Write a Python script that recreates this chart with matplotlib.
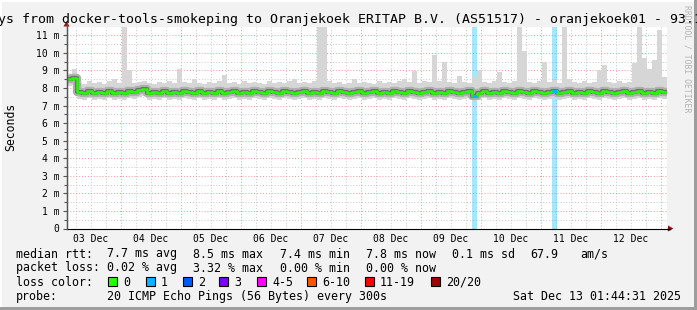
import numpy as np
import matplotlib
matplotlib.use('Agg')
import matplotlib.pyplot as plt
from matplotlib.patches import Rectangle, Polygon
from matplotlib.lines import Line2D

W, H = 697, 310
MONO = 'DejaVu Sans Mono'

# x axis in days since 03 Dec 00:00, one value every 2 hours
start_day = 0.1
step_days = 2 / 24

median_ms = [8.50, 8.55,
             7.75, 7.70, 7.80, 7.70, 7.75, 7.70, 7.80, 7.70, 7.75, 7.70, 7.80, 7.75,
             7.90, 7.95,
             7.70, 7.75, 7.70, 7.80, 7.70, 7.75, 7.70, 7.80, 7.75, 7.70, 7.80, 7.70, 7.75, 7.70,
             7.80, 7.70, 7.75, 7.80, 7.70, 7.75, 7.70, 7.80, 7.75, 7.70, 7.80, 7.75, 7.70, 7.80, 7.75, 7.70, 7.75, 7.80, 7.70, 7.75,
             7.70, 7.80, 7.75, 7.70, 7.80, 7.75, 7.70, 7.75, 7.80, 7.70, 7.75, 7.80, 7.70, 7.75, 7.70, 7.80, 7.75, 7.70, 7.80, 7.75,
             7.70, 7.75, 7.80, 7.70, 7.75, 7.70, 7.80, 7.75, 7.70, 7.75, 7.80, 7.55, 7.70, 7.80, 7.70, 7.75, 7.70, 7.80, 7.75, 7.70,
             7.80, 7.75, 7.70, 7.80, 7.75, 7.70, 7.75, 7.80, 7.70, 7.75, 7.80, 7.70, 7.75, 7.70, 7.80, 7.75, 7.70, 7.80, 7.75, 7.70,
             7.75, 7.80, 7.70, 7.75, 7.80, 7.70, 7.75, 7.70, 7.80, 7.75]

smoke_min = [8.10, 8.15,
             7.35, 7.30, 7.40, 7.30, 7.35, 7.30, 7.40, 7.30, 7.35, 7.30, 7.40, 7.35,
             7.50, 7.55,
             7.30, 7.35, 7.30, 7.40, 7.30, 7.35, 7.30, 7.40, 7.35, 7.30, 7.40, 7.30, 7.35, 7.30,
             7.40, 7.30, 7.35, 7.40, 7.30, 7.35, 7.30, 7.40, 7.35, 7.30, 7.40, 7.35, 7.30, 7.40, 7.35, 7.30, 7.35, 7.40, 7.30, 7.35,
             7.30, 7.40, 7.35, 7.30, 7.40, 7.35, 7.30, 7.35, 7.40, 7.30, 7.35, 7.40, 7.30, 7.35, 7.30, 7.40, 7.35, 7.30, 7.40, 7.35,
             7.30, 7.35, 7.40, 7.30, 7.35, 7.30, 7.40, 7.35, 7.30, 7.35, 7.40, 7.20, 7.30, 7.40, 7.30, 7.35, 7.30, 7.40, 7.35, 7.30,
             7.40, 7.35, 7.30, 7.40, 7.35, 7.30, 7.35, 7.40, 7.30, 7.35, 7.40, 7.30, 7.35, 7.30, 7.40, 7.35, 7.30, 7.40, 7.35, 7.30,
             7.35, 7.40, 7.30, 7.35, 7.40, 7.30, 7.35, 7.30, 7.40, 7.35]

smoke_max = [8.80, 9.10,
             8.30, 8.25, 8.40, 8.30, 8.35, 8.25, 8.40, 8.50, 8.30, 11.45, 9.00, 8.30,
             8.35, 8.40,
             8.30, 8.25, 8.35, 8.30, 8.40, 8.30, 9.10, 8.35, 8.30, 8.50, 8.30, 8.25, 8.35, 8.30,
             8.40, 8.75, 8.30, 8.35, 8.25, 8.40, 8.30, 8.35, 8.30, 8.25, 8.40, 8.30, 8.35, 8.30, 8.40, 8.50, 8.30, 8.35, 8.30, 8.40,
             11.45, 11.45, 8.40, 8.30, 8.35, 8.25, 8.30, 8.50, 8.30, 8.35, 8.30, 8.25, 8.40, 8.30, 8.35, 8.30, 8.40, 8.50, 8.35, 8.95,
             8.30, 8.40, 8.35, 9.85, 8.40, 9.45, 8.35, 8.30, 8.70, 8.35, 8.30, 8.60, 9.00, 8.35, 8.30, 8.40, 8.90, 8.35, 8.30, 8.40,
             11.45, 10.10, 8.35, 8.30, 8.40, 9.50, 8.35, 8.45, 8.30, 11.45, 8.50, 8.35, 8.30, 8.40, 8.30, 8.35, 9.00, 9.30, 8.35, 8.30,
             8.40, 8.30, 8.35, 9.40, 11.45, 9.70, 9.05, 9.60, 11.30, 8.60]

# 2-hour slots that lost pings, and how many of 20
loss_slots = [81, 97]
loss_pings = [1, 1]

day_labels = ['03 Dec', '04 Dec', '05 Dec', '06 Dec', '07 Dec',
              '08 Dec', '09 Dec', '10 Dec', '11 Dec', '12 Dec']
y_labels = ['0', '1 m', '2 m', '3 m', '4 m', '5 m', '6 m',
            '7 m', '8 m', '9 m', '10 m', '11 m']

loss_names = ['0', '1', '2', '3', '4-5', '6-10', '11-19', '20/20']
loss_colors = ['#26ff00', '#00b8ff', '#0059ff', '#7e00ff',
               '#ff00ff', '#ff5500', '#ff0000', '#a10000']


def px(x, y):
    return x / W, 1 - y / H


fig = plt.figure(figsize=(W / 100, H / 100), dpi=100, facecolor='#f2f2f2')
ax = fig.add_axes([67 / W, 1 - 228.5 / H, 600 / W, 201.5 / H])
ax.set_facecolor('white')
ax.set_xlim(0.1, 10.1)
ax.set_ylim(0, 201.5 / 17.57)

# grid
for d in np.arange(0.25, 10.1, 0.25):
    if abs(d - round(d)) > 0.01:
        ax.axvline(d, color='#c8c8c8', lw=0.7, ls=(0, (1, 2)), zorder=1)
for d in range(1, 11):
    ax.axvline(d, color='#eb9a9a', lw=0.7, ls=(0, (1, 2)), zorder=1)
for v in np.arange(0.5, 11.5, 1.0):
    ax.axhline(v, color='#c8c8c8', lw=0.7, ls=(0, (1, 2)), zorder=1)
for v in range(1, 12):
    ax.axhline(v, color='#eb9a9a', lw=0.7, ls=(0, (1, 2)), zorder=1)

n = len(median_ms)
edges = start_day + step_days * np.arange(n + 1)
med = np.array(median_ms)


def stepped(v):
    v = np.asarray(v, dtype=float)
    return np.append(v, v[-1])


# loss bars
for slot, cnt in zip(loss_slots, loss_pings):
    ax.axvspan(edges[slot], edges[slot + 1], color=loss_colors[cnt], alpha=0.35, lw=0, zorder=1.5)

# smoke
ax.fill_between(edges, stepped(smoke_min), stepped(smoke_max), step='post',
                color='#d6d6d6', lw=0, zorder=2)
ax.step(edges, stepped(med), where='post', color='#b0b0b0', lw=6.0, zorder=3, solid_capstyle='butt')
ax.step(edges, stepped(med), where='post', color='#707070', lw=3.0, zorder=4, solid_capstyle='butt')
ax.step(edges, stepped(med), where='post', color='#22ff00', lw=1.8, zorder=5, solid_capstyle='butt')
for slot, cnt in zip(loss_slots, loss_pings):
    ax.plot([edges[slot], edges[slot + 1]], [med[slot], med[slot]],
            color=loss_colors[cnt], lw=2.2, zorder=6, solid_capstyle='butt')

# axes / ticks
for s in ['top', 'right']:
    ax.spines[s].set_visible(False)
ax.spines['left'].set_color('#555555')
ax.spines['bottom'].set_color('black')
ax.set_xticks(np.arange(10) + 0.5, day_labels)
ax.tick_params(axis='x', length=0, pad=4.0, labelsize=7)
ax.set_yticks(range(12), y_labels)
ax.set_yticks(np.arange(0.5, 11.5, 1.0), minor=True)
ax.tick_params(axis='y', which='major', length=3, width=0.8, color='#555555', pad=2.5, labelsize=7)
ax.tick_params(axis='y', which='minor', length=2, width=0.8, color='#555555')
for lab in ax.get_xticklabels() + ax.get_yticklabels():
    lab.set_fontfamily(MONO)

# axis extensions and arrows
fig.add_artist(Line2D([66.5 / W, 66.5 / W], [px(0, 228.5)[1], px(0, 24)[1]],
                      color='#555555', lw=1.0))
fig.add_artist(Line2D([px(667, 0)[0], px(670, 0)[0]], [px(0, 228.5)[1]] * 2,
                      color='black', lw=1.0))
fig.add_artist(Polygon([px(63.5, 26.5), px(69.5, 26.5), px(66.5, 21)], closed=True,
                       color='#a01010', lw=0))
fig.add_artist(Polygon([px(668, 225.5), px(668, 231.5), px(673.5, 228.5)], closed=True,
                       color='#a01010', lw=0))

# title and side texts
fig.text(*px(-2.5, 23), 'ys from docker-tools-smokeping to Oranjekoek ERITAP B.V. (AS51517) - oranjekoek01 - 93.1',
         family=MONO, fontsize=9.5, va='baseline', ha='left')
fig.text(*px(11, 127), 'Seconds', family=MONO, fontsize=8.3, rotation=90, va='center', ha='center')
fig.text(*px(687, 59), 'RRDTOOL / TOBI OETIKER', family=MONO, fontsize=5.9, rotation=270,
         va='center', ha='center', color='#b3b3b3')

# legend rows
rows = [
    (257.5, [(16, 'median rtt:'), (107, '7.7 ms avg'), (193, '8.5 ms max'), (280, '7.4 ms min'),
             (366, '7.8 ms now'), (452, '0.1 ms sd'), (530, '67.9'), (580, 'am/s')]),
    (271.5, [(16, 'packet loss:'), (107, '0.02 % avg'), (193, '3.32 % max'), (280, '0.00 % min'),
             (366, '0.00 % now')]),
    (285.5, [(16, 'loss color:')]),
    (300.0, [(16, 'probe:'), (107, '20 ICMP Echo Pings (56 Bytes) every 300s'),
             (513, 'Sat Dec 13 01:44:31 2025')]),
]
for y, items in rows:
    for x, s in items:
        fig.text(*px(x, y), s, family=MONO, fontsize=8.4, va='baseline', ha='left')

box_x = [108, 146, 183, 219, 257, 307, 365, 431]
for bx, name, col in zip(box_x, loss_names, loss_colors):
    fig.add_artist(Rectangle(px(bx, 286), 9 / W, 9 / H, facecolor=col, edgecolor='black', lw=0.8))
    fig.text(*px(bx + 15, 285.5), name, family=MONO, fontsize=8.4, va='baseline', ha='left')

# 3d frame
fig.add_artist(Rectangle((0, 0), 1, 3 / H, color='#9d9d9d', lw=0))
fig.add_artist(Rectangle(((W - 3) / W, 0), 3 / W, 1, color='#9d9d9d', lw=0))
fig.add_artist(Rectangle((0, 1 - 2 / H), 1 - 3 / W, 2 / H, color='white', lw=0))
fig.add_artist(Rectangle((0, 3 / H), 2 / W, 1, color='white', lw=0))

fig.savefig('out.png', dpi=100, facecolor=fig.get_facecolor())
